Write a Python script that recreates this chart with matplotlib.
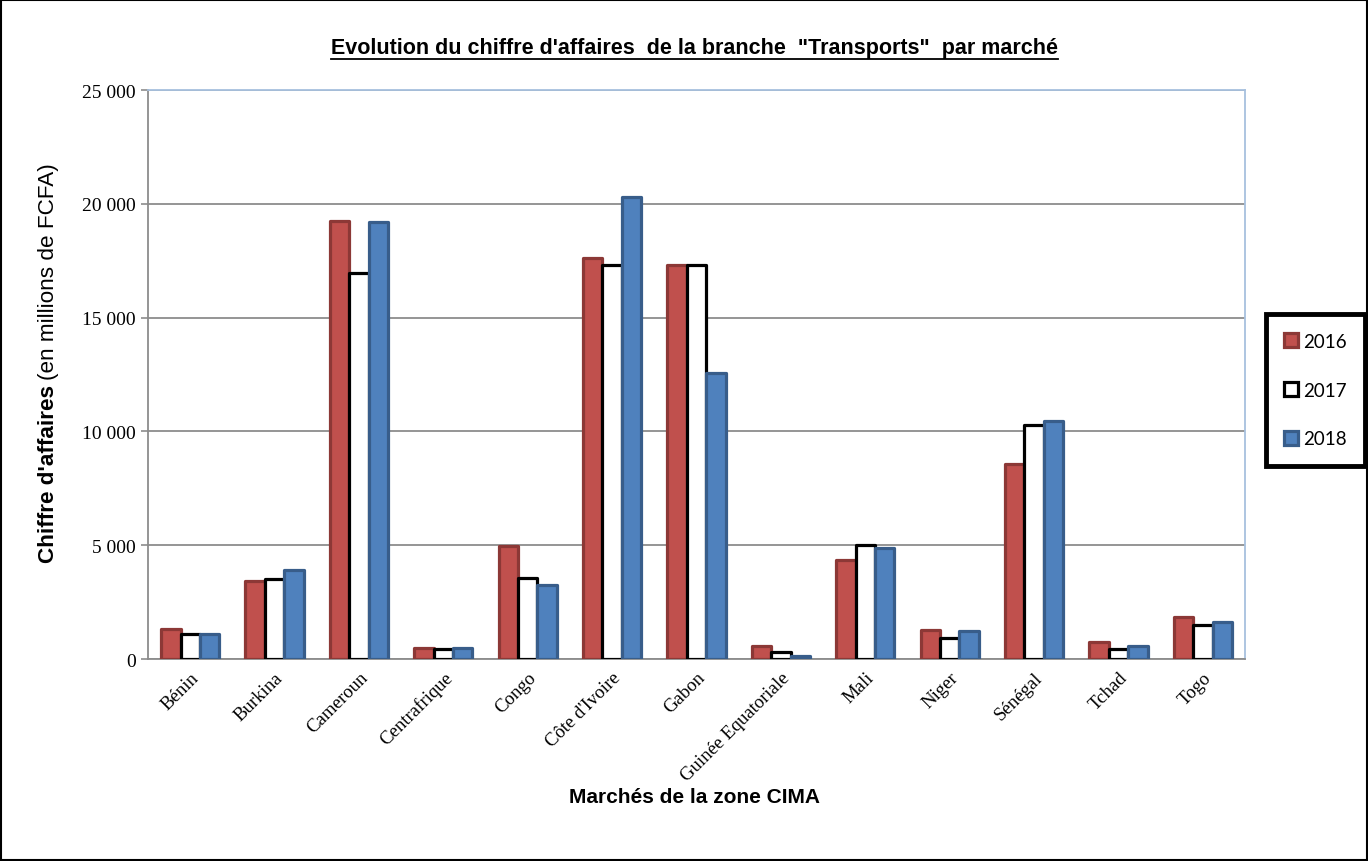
import matplotlib
matplotlib.use("Agg")
import matplotlib.pyplot as plt
from matplotlib.lines import Line2D
from matplotlib.patches import Rectangle
from matplotlib.ticker import FuncFormatter, MultipleLocator
import numpy as np

marches = ["Bénin", "Burkina", "Cameroun", "Centrafrique", "Congo",
           "Côte d'Ivoire", "Gabon", "Guinée Equatoriale", "Mali", "Niger",
           "Sénégal", "Tchad", "Togo"]
ca_2016 = [1300, 3450, 19250, 480, 4950, 17600, 17300, 560, 4350, 1290, 8580, 730, 1840]
ca_2017 = [1100, 3500, 16950, 420, 3550, 17300, 17300, 330, 5000, 930, 10300, 440, 1510]
ca_2018 = [1100, 3900, 19200, 490, 3250, 20300, 12550, 120, 4900, 1240, 10450, 560, 1620]
annees = ["2016", "2017", "2018"]

SANS = "Liberation Sans"
SERIF = "Liberation Serif"


def fmt_milliers(v, pos):
    return "{:,.0f}".format(v).replace(",", " ")


def main():
    fig = plt.figure(figsize=(13.68, 8.62), dpi=100)
    ax = fig.add_axes([0.1082, 0.2343, 0.8019, 0.6601])

    x = np.arange(len(marches))
    w = 0.23
    styles = [
        dict(color="#c0504d", edgecolor="#8c3836"),
        dict(color="white", edgecolor="black"),
        dict(color="#4f81bd", edgecolor="#385d8a"),
    ]
    series = [ca_2016, ca_2017, ca_2018]
    for i, (vals, st, lab) in enumerate(zip(series, styles, annees)):
        ax.bar(x + (i - 1) * w, vals, w, label=lab, linewidth=2.3,
               joinstyle="round", zorder=3, **st)

    ax.set_xlim(-0.5, len(marches) - 0.5)
    ax.set_ylim(0, 25000)
    ax.yaxis.set_major_locator(MultipleLocator(5000))
    ax.yaxis.set_major_formatter(FuncFormatter(fmt_milliers))
    ax.grid(axis="y", color="#8c8c8c", linewidth=1.3, zorder=0)
    ax.set_axisbelow(True)

    for s in ["top", "right"]:
        ax.spines[s].set_color("#a7c0de")
        ax.spines[s].set_linewidth(1.3)
    for s in ["left", "bottom"]:
        ax.spines[s].set_color("#8c8c8c")
        ax.spines[s].set_linewidth(1.3)

    ax.tick_params(axis="y", length=5, width=1.2, color="#8c8c8c", pad=4)
    ax.tick_params(axis="x", length=0, pad=7)
    for t in ax.get_yticklabels():
        t.set_fontfamily(SERIF)
        t.set_fontsize(14)
    ax.set_xticks(x)
    ax.set_xticklabels(marches, rotation=45, ha="right", va="top",
                       rotation_mode="anchor", fontfamily=SERIF, fontsize=13.5)

    # titre souligné
    titre = fig.text(0.508, 0.944,
                     "Evolution du chiffre d'affaires  de la branche  \"Transports\"  par marché",
                     ha="center", va="center", fontfamily=SANS, fontweight="bold",
                     fontsize=15.5)

    fig.text(0.508, 0.075, "Marchés de la zone CIMA", ha="center", va="center",
             fontfamily=SANS, fontweight="bold", fontsize=15)

    # label y en deux parties (gras + normal)
    yb = fig.text(0.0355, 1 - 563 / 862, "Chiffre d'affaires", rotation=90,
                  ha="center", va="bottom", fontfamily=SANS, fontweight="bold",
                  fontsize=16.2)

    fig.canvas.draw()
    r = fig.canvas.get_renderer()
    bb = yb.get_window_extent(r)
    fig.text(0.0355, (bb.y1 + 5) / fig.bbox.height, "(en millions de FCFA)",
             rotation=90, ha="center", va="bottom", fontfamily=SANS, fontsize=16.2)

    tb = titre.get_window_extent(r)
    yl = (tb.y0 - 1) / fig.bbox.height
    fig.add_artist(Line2D([tb.x0 / fig.bbox.width, tb.x1 / fig.bbox.width], [yl, yl],
                          transform=fig.transFigure, color="black", linewidth=1.3))

    leg = fig.legend(loc="center", bbox_to_anchor=(0.9616, 0.5464),
                     bbox_transform=fig.transFigure, frameon=True, fancybox=False,
                     framealpha=1, prop={"family": "Lato", "size": 13.5},
                     handlelength=0.75, handleheight=0.75, handletextpad=0.25,
                     labelspacing=1.7, borderpad=1.0, borderaxespad=0)
    leg.get_frame().set_edgecolor("black")
    leg.get_frame().set_linewidth(3.5)

    fig.add_artist(Rectangle((0.001, 0.001), 0.998, 0.998, transform=fig.transFigure,
                             fill=False, edgecolor="black", linewidth=1.5))

    fig.savefig("out.png", dpi=100)


if __name__ == "__main__":
    main()
